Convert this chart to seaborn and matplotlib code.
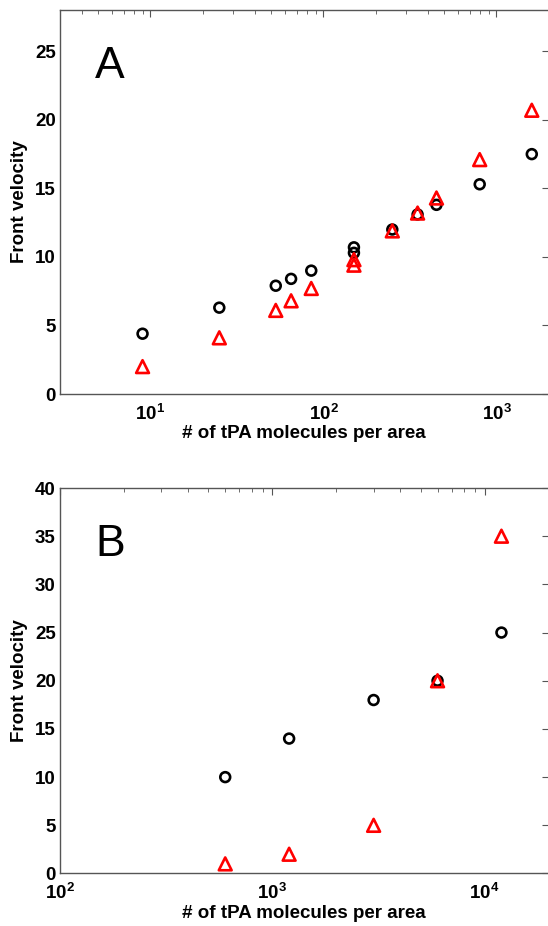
import numpy as np
import pandas as pd
import matplotlib
matplotlib.use('Agg')
import matplotlib.pyplot as plt
import matplotlib.ticker as mticker
import seaborn as sns

# panel A data
a_x = [9, 25, 53, 65, 85, 150, 150, 250, 350, 450, 800, 1600]
a_circ = [4.4, 6.3, 7.9, 8.4, 9.0, 10.7, 10.3, 12.0, 13.1, 13.8, 15.3, 17.5]
a_tri = [2.0, 4.1, 6.1, 6.8, 7.7, 9.8, 9.4, 11.9, 13.2, 14.3, 17.1, 20.7]

# panel B data
b_x = [600, 1200, 3000, 6000, 12000]
b_circ = [10, 14, 18, 20, 25]
b_tri = [1, 2, 5, 20, 35]

xlabel = '# of tPA molecules per area'
ylabel = 'Front velocity'

sns.set_style('white')
plt.rcParams['font.family'] = ['Liberation Sans', 'DejaVu Sans']
plt.rcParams['text.color'] = 'black'
plt.rcParams['axes.labelcolor'] = 'black'
plt.rcParams['xtick.labelcolor'] = 'black'
plt.rcParams['ytick.labelcolor'] = 'black'
plt.rcParams['mathtext.fontset'] = 'custom'
plt.rcParams['mathtext.bf'] = 'Liberation Sans:bold'
plt.rcParams['mathtext.rm'] = 'Liberation Sans:bold'

fig = plt.figure(figsize=(5.48, 9.26), dpi=100)
axA = fig.add_axes([0.1095, 0.5745, 0.8915, 0.4145])
axB = fig.add_axes([0.1095, 0.0567, 0.8915, 0.4163])

dfA = pd.DataFrame({'x': a_x, 'circ': a_circ, 'tri': a_tri})
dfB = pd.DataFrame({'x': b_x, 'circ': b_circ, 'tri': b_tri})


def decade(v, pos):
    return r'$\mathbf{10^{%d}}$' % int(round(np.log10(v)))


for ax, df, letter, xlim, ylim, yt in [
        (axA, dfA, 'A', (3, 2000), (0, 28), range(0, 30, 5)),
        (axB, dfB, 'B', (100, 20000), (0, 40), range(0, 45, 5))]:
    sns.scatterplot(data=df, x='x', y='circ', ax=ax, marker='o', s=50,
                    fc='none', ec='black', linewidth=1.9, zorder=3)
    sns.scatterplot(data=df, x='x', y='tri', ax=ax, marker='^', s=85,
                    fc='none', ec='red', linewidth=1.9, zorder=3)
    ax.set_xscale('log')
    ax.set_xlim(*xlim)
    ax.set_ylim(*ylim)
    ax.set_yticks(list(yt))
    ax.xaxis.set_major_locator(mticker.LogLocator(base=10))
    ax.xaxis.set_minor_locator(mticker.LogLocator(base=10, subs=np.arange(2, 10)))
    ax.xaxis.set_major_formatter(mticker.FuncFormatter(decade))
    ax.xaxis.set_minor_formatter(mticker.NullFormatter())
    for s in ax.spines.values():
        s.set_color('#555555')
        s.set_linewidth(1.0)
    ax.tick_params(which='both', direction='in', top=True, right=True,
                   color='#555555', labelsize=13.5)
    ax.tick_params(axis='y', pad=3)
    ax.tick_params(axis='x', pad=7)
    ax.tick_params(which='major', length=5)
    ax.tick_params(which='minor', length=3)
    for lab in ax.get_yticklabels():
        lab.set_fontweight('bold')
    ax.set_xlabel(xlabel, fontsize=13.5, fontweight='bold', labelpad=1)
    ax.set_ylabel(ylabel, fontsize=13.5, fontweight='bold', labelpad=5)
    ax.text(0.072, 0.823, letter, transform=ax.transAxes, fontsize=32,
            ha='left', va='baseline', color='black')

fig.savefig('out.png', dpi=100)
